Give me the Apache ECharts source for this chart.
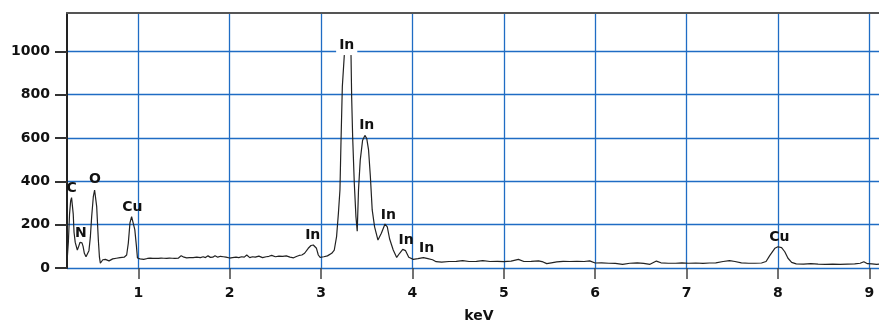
<!DOCTYPE html>
<html>
<head>
<meta charset="utf-8">
<script src="https://cdn.jsdelivr.net/npm/echarts@6/dist/echarts.min.js"></script>
<style>
html,body{margin:0;padding:0;background:#fff;}
#chart{width:879px;height:324px;}
</style>
</head>
<body>
<div id="chart"></div>
<script>
// Spectrum (energy in keV, counts)
const energyKeV = [
0.222,0.235,0.248,0.260,0.270,0.280,0.288,0.297,0.310,0.333,0.348,0.362,0.372,0.384,0.396,0.410,0.428,0.445,0.460,0.475,
0.490,0.508,0.522,0.530,0.545,0.563,0.575,0.585,0.597,0.612,0.625,0.640,0.660,0.680,0.700,0.720,0.740,0.760,0.780,0.800,
0.820,0.845,0.860,0.873,0.891,0.909,0.927,0.944,0.962,0.980,0.991,1.005,1.02,1.04,1.06,1.08,1.10,1.13,1.16,1.19,
1.22,1.25,1.28,1.31,1.34,1.37,1.40,1.44,1.47,1.50,1.53,1.56,1.60,1.64,1.68,1.71,1.735,1.763,1.79,1.815,
1.84,1.87,1.90,1.93,1.96,2.00,2.03,2.07,2.10,2.13,2.16,2.187,2.22,2.25,2.28,2.32,2.36,2.40,2.43,2.46,
2.50,2.54,2.58,2.62,2.66,2.70,2.73,2.76,2.79,2.82,2.86,2.89,2.915,2.95,2.97,2.99,3.03,3.07,3.117,3.145,
3.17,3.19,3.207,3.218,3.233,3.255,3.29,3.328,3.335,3.346,3.364,3.382,3.396,3.41,3.429,3.455,3.48,3.50,3.52,3.54,
3.56,3.586,3.623,3.66,3.70,3.725,3.75,3.79,3.828,3.86,3.894,3.925,3.96,4.01,4.06,4.12,4.17,4.22,4.26,4.32,
4.40,4.48,4.55,4.62,4.70,4.77,4.85,4.93,5.00,5.08,5.16,5.22,5.30,5.38,5.43,5.47,5.52,5.58,5.65,5.72,
5.80,5.88,5.94,6.00,6.07,6.15,6.22,6.30,6.38,6.46,6.53,6.60,6.67,6.72,6.80,6.88,6.95,7.02,7.10,7.18,
7.25,7.32,7.40,7.47,7.53,7.60,7.68,7.75,7.82,7.87,7.91,7.966,8.00,8.04,8.075,8.11,8.15,8.20,8.28,8.36,
8.44,8.52,8.60,8.68,8.76,8.84,8.90,8.94,8.98,9.03,9.08,9.106
];
const counts = [
40,120,250,310,325,318,250,165,118,83,100,118,110,116,100,68,52,58,80,140,
237,329,360,362,283,129,50,22,15,38,45,40,36,33,38,42,48,45,50,48,
52,50,55,60,115,208,237,230,177,100,46,38,42,44,40,45,44,46,44,45,
44,46,45,44,46,45,44,46,57,50,47,48,48,50,48,52,48,56,49,50,
57,50,54,52,50,46,48,50,48,52,50,60,48,52,50,55,48,52,54,58,
52,55,54,56,50,47,53,58,60,68,91,104,106,91,60,49,52,56,68,83,
145,252,360,575,837,985,1045,985,790,606,391,237,170,360,498,590,612,598,545,421,
268,190,129,160,203,190,135,83,49,68,86,80,50,40,43,48,43,38,29,27,
30,31,34,30,31,34,30,31,29,32,40,30,31,33,28,20,24,28,31,30,
31,30,33,23,24,22,21,17,22,24,21,17,32,24,22,22,24,22,23,21,
23,24,30,34,30,24,22,22,23,30,57,91,98,94,75,45,26,19,18,20,
18,17,18,17,18,19,22,29,20,19,17,18
];

// Peak annotations
const peakNames = ['C','N','O','Cu','In','In','In','In','In','In','Cu'];
const peakLabelKeV = [0.271,0.373,0.526,0.935,2.909,3.281,3.500,3.736,3.930,4.156,8.015];
const peakLabelCounts = [369,162,411,281,152,1029,660,245,129,92,142];

// Axis ticks
const xTicks = [1,2,3,4,5,6,7,8,9];
const yTicks = [0,200,400,600,800,1000];
const xMin = 0.22, xMax = 9.106, yMin = 0, yMax = 1177;

const BLUE = '#1f6cc4';
const chart = echarts.init(document.getElementById('chart'), null, {renderer:'canvas'});

const lineData = energyKeV.map((e,i)=>[e, counts[i]]);
const labelData = peakNames.map((n,i)=>({
  name:n, value:[peakLabelKeV[i], peakLabelCounts[i]],
  label: (i===5) ? {backgroundColor:'#fff', padding:[1,3,5,3]} : {}
}));

const FONT = 'DejaVu Sans';

chart.setOption({
  animation:false,
  backgroundColor:'#fff',
  grid:{left:67, right:0, top:13, bottom:56, containLabel:false},
  xAxis:[{
    type:'value', min:xMin, max:xMax, position:'bottom',
    axisLine:{show:false},
    axisTick:{show:true, length:11, customValues:xTicks, lineStyle:{color:'#444', width:1.5}},
    axisLabel:{customValues:xTicks, margin:18, formatter:v=>String(v), fontFamily:FONT, fontWeight:'bold', fontSize:14, color:'#111'},
    splitLine:{show:true, lineStyle:{color:BLUE, width:1.3}}
  },{
    type:'value', min:xMin, max:xMax, position:'top',
    axisLine:{show:true, onZero:false, lineStyle:{color:'#555', width:2}},
    axisTick:{show:false}, axisLabel:{show:false}, splitLine:{show:false}
  }],
  yAxis:{
    type:'value', min:yMin, max:yMax,
    axisLine:{show:true, lineStyle:{color:'#222', width:2}},
    axisTick:{show:true, length:12, customValues:yTicks, lineStyle:{color:'#333', width:2}},
    axisLabel:{customValues:yTicks, margin:17, formatter:v=>String(v), fontFamily:FONT, fontWeight:'bold', fontSize:14, color:'#111'},
    splitLine:{show:true, lineStyle:{color:BLUE, width:1.3}}
  },
  graphic:[{
    type:'text', x:479, y:316,
    style:{text:'keV', x:0, y:0, align:'center', verticalAlign:'middle', fill:'#111',
      font:'bold 14px "DejaVu Sans"'}
  }],
  series:[{
    type:'line', data:lineData, showSymbol:false, symbol:'none',
    lineStyle:{color:'#222', width:1.2}, z:3
  },{
    type:'scatter', data:labelData, symbolSize:0, z:5, silent:true,
    itemStyle:{opacity:1},
    label:{show:true, position:'inside', formatter:'{b}', fontFamily:FONT, fontWeight:'bold', fontSize:14, color:'#111'}
  }]
});
</script>
</body>
</html>
